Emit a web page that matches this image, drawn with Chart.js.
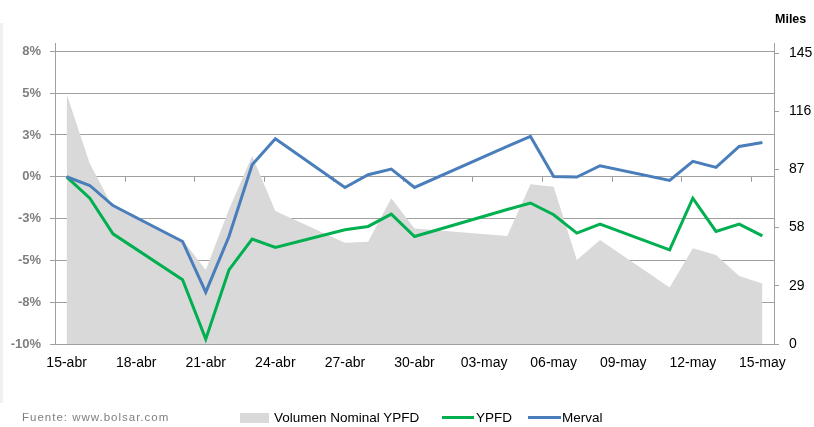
<!DOCTYPE html>
<html>
<head>
<meta charset="utf-8">
<script src="https://cdn.jsdelivr.net/npm/chart.js@4/dist/chart.umd.min.js"></script>
<style>
  body { margin: 0; background: #fff; font-family: "Liberation Sans", Arial, sans-serif; }
  #wrap { position: relative; width: 814px; height: 427px; }
  #edge { position: absolute; left: 0; top: 23px; width: 3px; height: 380px; background: #f0f0f0; }
  .txt { position: absolute; white-space: nowrap; }
  #miles { left: 775px; top: 12px; font-size: 12.5px; font-weight: bold; color: #000; }
  #fuente { left: 22px; top: 411px; font-size: 11.5px; color: #7f7f7f; letter-spacing: 1px; }
  .leg { position: absolute; top: 410px; font-size: 13.5px; color: #000; }
  .sw { position: absolute; }
</style>
</head>
<body>
<div id="wrap">
  <canvas id="chart"></canvas>
  <div id="edge"></div>
  <div class="txt" id="miles">Miles</div>
  <div class="txt" id="fuente">Fuente: www.bolsar.com</div>
  <div class="sw" style="left:240px;top:413px;width:29px;height:10px;background:#d9d9d9"></div>
  <div class="leg" style="left:274px">Volumen Nominal YPFD</div>
  <div class="sw" style="left:442px;top:416px;width:32px;height:3px;background:#00b050"></div>
  <div class="leg" style="left:476px">YPFD</div>
  <div class="sw" style="left:528px;top:416px;width:33px;height:3px;background:#4a7ebb"></div>
  <div class="leg" style="left:562px">Merval</div>
</div>
<script>
// trading days shown on the chart
const fechas = [
  "2015-04-15", "2015-04-16", "2015-04-17", "2015-04-20", "2015-04-21", "2015-04-22",
  "2015-04-23", "2015-04-24", "2015-04-27", "2015-04-28", "2015-04-29", "2015-04-30",
  "2015-05-04", "2015-05-05", "2015-05-06", "2015-05-07", "2015-05-08", "2015-05-11",
  "2015-05-12", "2015-05-13", "2015-05-14", "2015-05-15"
];
// variation vs 15-abr, in %
const merval = [0, -0.52, -1.72, -3.87, -6.9, -3.57, 0.72, 2.27, -0.64, 0.12, 0.46,
  -0.64, 1.82, 2.41, 0.02, -0.02, 0.66, -0.22, 0.92, 0.56, 1.81, 2.05];
const ypfd = [0, -1.28, -3.41, -6.16, -9.71, -5.57, -3.73, -4.23, -3.17, -2.97, -2.23,
  -3.57, -1.96, -1.57, -2.27, -3.37, -2.83, -4.37, -1.28, -3.27, -2.83, -3.53];
// volumen nominal YPFD, miles
const volumen = [124.6, 90.0, 68, 52, 36.9, 67, 93.7, 66.3, 50.5, 51, 72.6,
  57.6, 53.8, 79.6, 78.4, 41.9, 51.8, 28.2, 47.7, 44.3, 33.9, 30.2];

const xTickLabels = ["15-abr", "18-abr", "21-abr", "24-abr", "27-abr", "30-abr",
  "03-may", "06-may", "09-may", "12-may", "15-may"];
const yTickValues = [-10, -7.5, -5, -2.5, 0, 2.5, 5, 7.5];
const yTickLabels = ["-10%", "-8%", "-5%", "-3%", "0%", "3%", "5%", "8%"];
const y1TickValues = [0, 29, 58, 87, 116, 145];

const dayMs = 86400000;
const start = new Date(fechas[0]).getTime();
const dias = fechas.map(f => Math.round((new Date(f).getTime() - start) / dayMs));
const pts = (vals) => vals.map((v, i) => ({ x: dias[i], y: v }));

// small tick marks sitting on the 0% line, between the date labels
const zeroTicks = {
  id: "zeroTicks",
  beforeDatasetsDraw(chart) {
    const { ctx, scales } = chart;
    const y0 = scales.y.getPixelForValue(0);
    ctx.save();
    ctx.strokeStyle = "#999";
    ctx.lineWidth = 1;
    for (let d = 2.5; d < 30; d += 3) {
      const x = Math.round(scales.x.getPixelForValue(d)) + 0.5;
      ctx.beginPath();
      ctx.moveTo(x, y0);
      ctx.lineTo(x, y0 + 5);
      ctx.stroke();
    }
    ctx.restore();
  }
};

new Chart(document.querySelector("#chart"), {
  type: "line",
  data: {
    datasets: [
      {
        label: "Merval",
        data: pts(merval),
        borderColor: "#4a7ebb",
        borderWidth: 3,
        yAxisID: "y",
        order: 1,
      },
      {
        label: "YPFD",
        data: pts(ypfd),
        borderColor: "#00b050",
        borderWidth: 3,
        yAxisID: "y",
        order: 2,
      },
      {
        label: "Volumen Nominal YPFD",
        data: pts(volumen),
        borderWidth: 0,
        borderColor: "rgba(0,0,0,0)",
        backgroundColor: "#d9d9d9",
        fill: "origin",
        yAxisID: "y1",
        order: 3,
      },
    ],
  },
  options: {
    responsive: true,
    maintainAspectRatio: false,
    animation: false,
    layout: { padding: { top: 43, bottom: 53, left: 0, right: 0 } },
    elements: { point: { radius: 0 }, line: { tension: 0 } },
    plugins: { legend: { display: false }, tooltip: { enabled: false } },
    scales: {
      x: {
        type: "linear",
        min: -0.5,
        max: 30.5,
        afterBuildTicks: (s) => { s.ticks = xTickLabels.map((_, i) => ({ value: i * 3 })); },
        afterFit: (s) => { s.height = 30; },
        grid: { display: false, drawTicks: false },
        border: { display: false },
        ticks: {
          padding: 11,
          color: "#000",
          font: { family: "Liberation Sans", size: 14 },
          maxRotation: 0,
          autoSkip: false,
          callback: (v, i) => xTickLabels[i],
        },
      },
      y: {
        position: "left",
        min: -10,
        max: 8,
        afterBuildTicks: (s) => { s.ticks = yTickValues.map(v => ({ value: v })); },
        afterFit: (s) => { s.width = 55; },
        grid: { color: "#a0a0a0", tickLength: 5 },
        border: { display: true, color: "#a0a0a0" },
        ticks: {
          padding: 9,
          color: "#7f7f7f",
          font: { family: "Liberation Sans", size: 13, weight: "bold" },
          callback: (v, i) => yTickLabels[i],
        },
      },
      y1: {
        position: "right",
        min: 0,
        max: 150,
        afterBuildTicks: (s) => { s.ticks = y1TickValues.map(v => ({ value: v })); },
        afterFit: (s) => { s.width = 40; },
        grid: { drawOnChartArea: false, color: "#a0a0a0", tickLength: 5 },
        border: { display: true, color: "#a0a0a0" },
        ticks: {
          padding: 10,
          color: "#000",
          font: { family: "Liberation Sans", size: 14 },
          callback: (v) => String(v),
        },
      },
    },
  },
  plugins: [zeroTicks],
});
</script>
</body>
</html>
